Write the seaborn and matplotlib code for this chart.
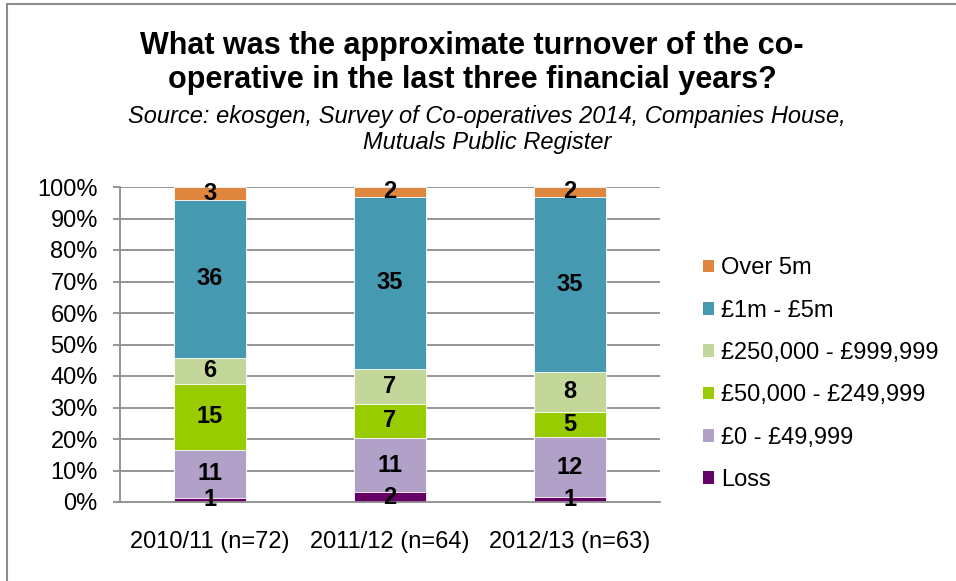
import matplotlib
matplotlib.use("Agg")
import matplotlib.pyplot as plt
import matplotlib.patches as mpatches
import numpy as np
import pandas as pd
import seaborn as sns

# Survey counts per turnover band, bottom band first
years = ["2010/11 (n=72)", "2011/12 (n=64)", "2012/13 (n=63)"]
bands = ["Loss", "£0 - £49,999", "£50,000 - £249,999",
         "£250,000 - £999,999", "£1m - £5m", "Over 5m"]
loss = [1, 2, 1]
band_0_50k = [11, 11, 12]
band_50k_250k = [15, 7, 5]
band_250k_1m = [6, 7, 8]
band_1m_5m = [36, 35, 35]
over_5m = [3, 2, 2]

colors = ["#660066", "#B1A0C7", "#99CC00", "#C4D79B", "#4599B1", "#E0873F"]

counts = np.array([loss, band_0_50k, band_50k_250k,
                   band_250k_1m, band_1m_5m, over_5m], dtype=float)
share = counts / counts.sum(axis=0) * 100
tops = np.cumsum(share, axis=0)
bottoms = tops - share

sns.set_theme(style="white")
plt.rcParams["font.family"] = ["Liberation Sans", "DejaVu Sans"]
plt.rcParams["text.color"] = "black"
plt.rcParams["xtick.color"] = "black"
plt.rcParams["ytick.color"] = "black"
plt.rcParams["xtick.labelcolor"] = "black"
plt.rcParams["ytick.labelcolor"] = "black"

fig = plt.figure(figsize=(9.56, 5.81), dpi=100)
ax = fig.add_axes([120 / 956, 1 - 502 / 581, 540 / 956, 315 / 581])

grid_c = "#8C8C8C"
for v in range(10, 101, 10):
    ax.axhline(v, color=grid_c, lw=1.3, zorder=0)

# Stacked bars: draw cumulative tops from the highest band downwards
for i in range(len(bands) - 1, -1, -1):
    df = pd.DataFrame({"year": years, "top": tops[i]})
    sns.barplot(data=df, x="year", y="top", color=colors[i], width=0.4,
                saturation=1, edgecolor="white", linewidth=0.6, ax=ax, zorder=2)

# Value labels centred in each segment
for i in range(len(bands)):
    for j in range(len(years)):
        ax.text(j, bottoms[i, j] + share[i, j] / 2, f"{int(counts[i, j])}",
                ha="center", va="center", fontsize=17, fontweight="bold",
                color="black", zorder=5)

ax.set_xlim(-0.5, 2.5)
ax.set_ylim(0, 100)
ax.set_yticks(range(0, 101, 10))
ax.set_yticklabels([f"{v}%" for v in range(0, 101, 10)], fontsize=17)
ax.set_xticks([0, 1, 2])
ax.set_xticklabels(years, fontsize=17)
ax.set_xlabel("")
ax.set_ylabel("")
ax.set_xticks([-0.5, 0.5, 1.5, 2.5], minor=True)
ax.tick_params(axis="x", which="major", length=0, pad=21)
ax.tick_params(axis="x", which="minor", length=5, width=1.3, color=grid_c)
ax.tick_params(axis="y", which="major", length=5, width=1.3, color=grid_c,
               left=True, pad=11)
for s in ["top", "right"]:
    ax.spines[s].set_visible(False)
for s in ["left", "bottom"]:
    ax.spines[s].set_color(grid_c)
    ax.spines[s].set_linewidth(1.3)

handles = [mpatches.Patch(facecolor=colors[i], edgecolor="none", label=bands[i])
           for i in range(len(bands) - 1, -1, -1)]
fig.legend(handles=handles, loc="upper left", bbox_to_anchor=(694 / 956, 1 - 248 / 581),
           frameon=False, fontsize=17, handlelength=0.45, handleheight=0.45,
           handletextpad=0.3, labelspacing=0.86, borderaxespad=0)

fig.text(472 / 956, 1 - 46 / 581, "What was the approximate turnover of the co-",
         ha="center", va="center", fontsize=22, fontweight="bold")
fig.text(472 / 956, 1 - 80 / 581, "operative in the last three financial years?",
         ha="center", va="center", fontsize=22, fontweight="bold")
fig.text(487 / 956, 1 - 116 / 581,
         "Source: ekosgen, Survey of Co-operatives 2014, Companies House,",
         ha="center", va="center", fontsize=17, style="italic")
fig.text(487 / 956, 1 - 142 / 581, "Mutuals Public Register",
         ha="center", va="center", fontsize=17, style="italic")

# Chart frame along the top and left edges
fig.add_artist(plt.Line2D([7 / 956, 7 / 956], [0, 1 - 4 / 581],
                          transform=fig.transFigure, color="#8C8C8C", lw=1.5))
fig.add_artist(plt.Line2D([7 / 956, 1], [1 - 4 / 581, 1 - 4 / 581],
                          transform=fig.transFigure, color="#8C8C8C", lw=1.5))

fig.savefig("out.png", dpi=100)
